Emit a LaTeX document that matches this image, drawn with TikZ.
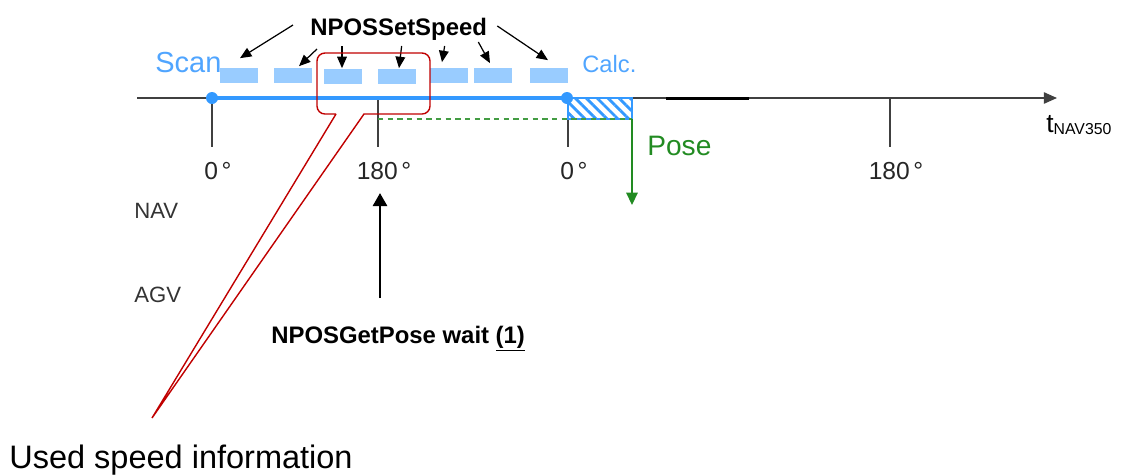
\documentclass[tikz,border=0pt]{standalone}
\usepackage{fontspec}
\setmainfont{Liberation Sans}
\usetikzlibrary{arrows.meta,calc,patterns.meta}

\definecolor{scanblue}{RGB}{51,153,255}
\definecolor{textblue}{RGB}{80,165,255}
\definecolor{dashblue}{RGB}{153,204,255}
\definecolor{posegreen}{RGB}{34,139,34}
\definecolor{calloutred}{RGB}{192,0,0}
\definecolor{axisgray}{RGB}{64,64,64}

\tikzset{
  axisline/.style={draw=axisgray, line width=0.8pt, -{Triangle[length=7.5pt,width=6.5pt]}},
  tickline/.style={draw=axisgray, line width=0.8pt},
  dashbox/.style={fill=dashblue, minimum width=0.76cm, minimum height=0.3cm, inner sep=0pt},
  setarrow/.style={-{Triangle[length=6.5pt,width=5.5pt]}, line width=0.7pt, black},
  deglabel/.style={font=\fontsize{14}{17}\selectfont, text=black!85, inner sep=0pt, anchor=base},
  sidelabel/.style={font=\fontsize{12.6}{15}\selectfont, text=black!80, inner sep=0pt, anchor=base west},
  boldlabel/.style={font=\fontsize{13.6}{16}\selectfont\bfseries, inner sep=0pt, anchor=base west},
  scandot/.style={circle, fill=scanblue, inner sep=0pt, minimum size=0.24cm},
}

\begin{document}
\begin{tikzpicture}[x=0.02cm, y=-0.02cm]
    \useasboundingbox (0,0) rectangle (1127,474);

    % Zeitachse
    \coordinate (ax0) at (137,98);
    \coordinate (ax1) at (1057,98);
    \draw[axisline] (ax0) -- (ax1);
    \draw[black, line width=1.5pt] (666,98.8) -- (749,98.8);
    \node[anchor=base west, inner sep=0pt] (tnav) at (1046,132)
        {{\fontsize{15}{18}\selectfont t}{\fontsize{9}{11}\selectfont\raisebox{-1.5pt}{NAV350}}};

    % Striche und Winkel
    \foreach \x/\lab [count=\i] in {212/0, 378/180, 568/0, 890/180} {
        \draw[tickline] (\x,98) -- (\x,147);
        \node[deglabel] (deg\i) at (\x+6,179) {\lab\kern2pt°};
    }

    % Scan-Zeitraum
    \node[scandot] (p0) at (212,98) {};
    \node[scandot] (p1) at (567,98) {};
    \draw[scanblue, line width=2.8pt] (p0.center) -- (p1.center);
    \node[text=textblue, font=\fontsize{16.5}{19}\selectfont, inner sep=0pt, anchor=base west] (scan) at (155,72) {Scan};
    \node[text=textblue, font=\fontsize{13.5}{16}\selectfont, inner sep=0pt, anchor=base west] (calc) at (582,72) {Calc.};

    % Geschwindigkeitsvorgaben
    \foreach \x/\y [count=\i] in {239/75, 293/75, 343/76, 397/76, 449/75, 493/75, 549/75}
        \node[dashbox] (d\i) at (\x,\y) {};
    \node[boldlabel] (speed) at (310,35) {NPOSSetSpeed};
    \draw[setarrow] ($(speed.base west)+(-17,-10)$) -- ($(d1.north)+(1,-9)$);
    \draw[setarrow] ($(speed.base west)+(7,14)$) -- ($(d2.north)+(6,-1)$);
    \draw[setarrow] ($(speed.base west)+(32,11)$) -- ($(d3.north)+(-1,0)$);
    \draw[setarrow] ($(speed.base)+(3,11)$) -- ($(d4.north)+(2,0)$);
    \draw[setarrow] ($(speed.base)+(46,11)$) -- ($(d5.north)+(-7,-5)$);
    \draw[setarrow] ($(speed.base east)+(-9,7)$) -- ($(d6.north)+(-3,-4)$);
    \draw[setarrow] ($(speed.base east)+(10,-9)$) -- ($(d7.north)+(-1,-7)$);

    % Berechnung der Pose
    \coordinate (hatchtl) at (568,98);
    \coordinate (hatchbr) at (632,119);
    \draw[scanblue, line width=0.8pt, pattern={Lines[angle=-45,distance=4.4pt,line width=1.6pt]},
          pattern color=scanblue] (hatchtl) rectangle (hatchbr);
    \coordinate (posedash) at (378,119);
    \draw[posegreen!85, dashed, dash pattern=on 3pt off 2.5pt, line width=0.8pt] (posedash) -- (hatchbr);
    \coordinate (poseend) at (632,205);
    \draw[posegreen, line width=0.9pt, -{Triangle[length=7pt,width=6.5pt]}] (hatchbr) -- (poseend);
    \node[text=posegreen, font=\fontsize{16}{19}\selectfont, inner sep=0pt, anchor=base west] (pose) at (647,155) {Pose};

    % NAV / AGV
    \node[sidelabel] (nav) at (134,218) {NAV};
    \node[sidelabel] (agv) at (134,302) {AGV};

    % Abfrage der Pose
    \node[boldlabel] (getpose) at (271,343) {NPOSGetPose wait \underline{(1)}};
    \coordinate (waitfoot) at (380,298);
    \coordinate (waittip) at (380,193);
    \draw[black, line width=1.7pt, -{Triangle[length=7.5pt,width=8pt]}] (waitfoot) -- (waittip);

    % Hinweis
    \coordinate (calltip) at (152,418);
    \draw[calloutred, line width=0.8pt] (336,114) -- (calltip) -- (364,114)
        {[rounded corners=4.5pt] -- (430,114) -- (430,53) -- (317,53) -- (317,114) -- (336,114)};
    \node[font=\fontsize{18.5}{22}\selectfont, inner sep=0pt, anchor=base west] (used) at (9,468) {Used speed information};
\end{tikzpicture}
\end{document}
